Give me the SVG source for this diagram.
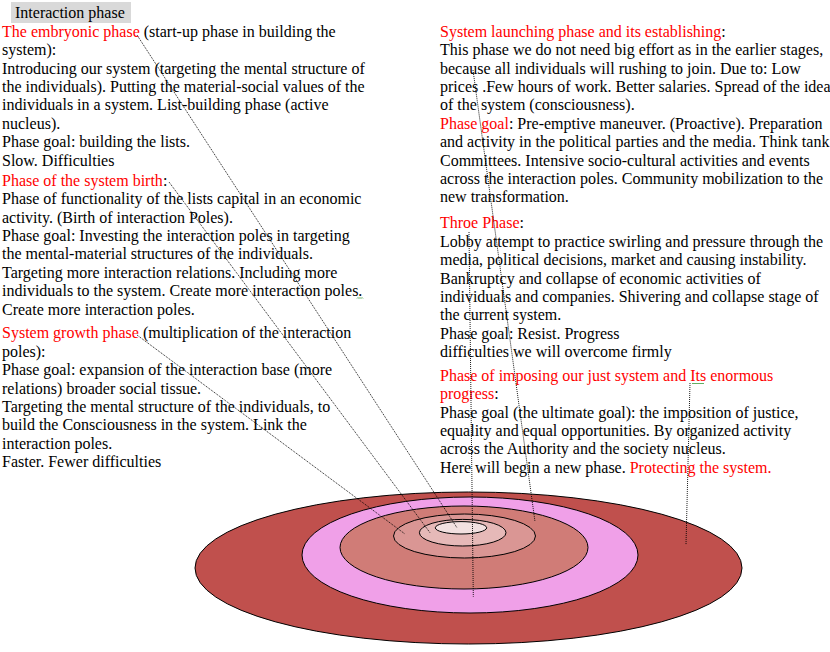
<svg xmlns="http://www.w3.org/2000/svg" width="830" height="652" viewBox="0 0 830 652">
<style>
text{font-family:"Liberation Serif","Times New Roman",serif;font-size:16px;fill:#000}
.r{fill:#FF0000}
.ring{stroke:#000;stroke-width:1}
.lead{fill:none;stroke:#000;stroke-width:0.9;stroke-dasharray:1 1}
.sq{fill:none;stroke:#3C9A3C;stroke-width:0.8}
</style>
<rect width="830" height="652" fill="#fff"/>
<g id="title">
<rect x="11" y="2" width="120" height="21" fill="#D9D9D9"/>
<text x="15" y="18.3">Interaction phase</text>
</g>
<g id="rings">
<ellipse id="ring-outer" class="ring" cx="468.5" cy="568" rx="273.5" ry="76" fill="#C0504D"/>
<ellipse id="ring-pink" class="ring" cx="470" cy="555" rx="168" ry="58" fill="#F0A0E8"/>
<ellipse id="ring-mid" class="ring" cx="464" cy="547.5" rx="124" ry="41.5" fill="#D07C77"/>
<ellipse id="ring-4" class="ring" cx="464.5" cy="536" rx="71" ry="22" fill="#DA9694"/>
<ellipse id="ring-5" class="ring" cx="462.7" cy="532.7" rx="43.3" ry="13.3" fill="#E6B9B8"/>
<ellipse id="ring-inner" class="ring" cx="461" cy="527.8" rx="25.7" ry="6.2" fill="#F2E0E0"/>
</g>
<g id="embryonic">
<text x="2" y="36.7"><tspan class="r">The embryonic phase</tspan> (start-up phase in building the</text>
<text x="2" y="55.1">system):</text>
<text x="2" y="73.5">Introducing our system (targeting the mental structure of</text>
<text x="2" y="91.9">the individuals). Putting the material-social  values of the</text>
<text x="2" y="110.3">individuals in a system. List-building phase (active</text>
<text x="2" y="128.7">nucleus).</text>
<text x="2" y="147.1">Phase goal: building the lists.</text>
<text x="2" y="165.5">Slow. Difficulties</text>
</g>
<g id="birth">
<text x="2" y="185.7"><tspan class="r">Phase of the system birth</tspan>:</text>
<text x="2" y="204.1">Phase of functionality of the lists capital in an economic</text>
<text x="2" y="222.5">activity. (Birth of interaction Poles).</text>
<text x="2" y="240.9">Phase goal: Investing the interaction poles in targeting</text>
<text x="2" y="259.3">the mental-material  structures of the individuals.</text>
<text x="2" y="277.7">Targeting more interaction relations. Including more</text>
<text x="2" y="296.1">individuals to the system. Create more interaction poles.</text>
<text x="2" y="314.5">Create more interaction poles.</text>
<path class="sq" d="M357 298.5 l1 -1 l1 1 l1 -1 l1 1 l1 -1 l1 1"/>
</g>
<g id="growth">
<text x="2" y="338.3"><tspan class="r">System growth phase</tspan> (multiplication  of the interaction</text>
<text x="2" y="356.7">poles):</text>
<text x="2" y="375.1">Phase goal: expansion of the interaction base (more</text>
<text x="2" y="393.5">relations) broader social tissue.</text>
<text x="2" y="411.9">Targeting the mental structure of the individuals, to</text>
<text x="2" y="430.3">build the Consciousness in the system. Link the</text>
<text x="2" y="448.7">interaction poles.</text>
<text x="2" y="467.1">Faster. Fewer difficulties</text>
</g>
<g id="launching">
<text x="440" y="36.7"><tspan class="r">System launching phase and its establishing</tspan>:</text>
<text x="440" y="55.1">This phase we do not need big effort as in the earlier stages,</text>
<text x="440" y="73.5">because all individuals will rushing to join. Due to: Low</text>
<text x="440" y="91.9">prices .Few hours of work. Better salaries.  Spread of the idea</text>
<text x="440" y="110.3">of the system (consciousness).</text>
<text x="440" y="128.7"><tspan class="r">Phase goal</tspan>: Pre-emptive maneuver. (Proactive). Preparation</text>
<text x="440" y="147.1">and activity in the political parties and the media. Think tank</text>
<text x="440" y="165.5">Committees. Intensive socio-cultural  activities and events</text>
<text x="440" y="183.9">across the interaction poles. Community mobilization  to the</text>
<text x="440" y="202.3">new transformation.</text>
</g>
<g id="throe">
<text x="440" y="228.3"><tspan class="r">Throe Phase</tspan>:</text>
<text x="440" y="246.7">Lobby attempt to practice swirling and pressure through the</text>
<text x="440" y="265.1">media, political  decisions, market and causing instability.</text>
<text x="440" y="283.5">Bankruptcy and collapse of economic activities of</text>
<text x="440" y="301.9">individuals and companies. Shivering and collapse stage of</text>
<text x="440" y="320.3">the current system.</text>
<text x="440" y="338.7">Phase goal: Resist. Progress</text>
<text x="440" y="357.1">difficulties we will overcome  firmly</text>
</g>
<g id="imposing">
<text x="440" y="380.7"><tspan class="r">Phase of imposing our just system and Its enormous</tspan></text>
<text x="440" y="399.1"><tspan class="r">progress</tspan>:</text>
<text x="440" y="417.5">Phase goal (the ultimate goal): the imposition  of justice,</text>
<text x="440" y="435.9">equality and equal opportunities. By organized activity</text>
<text x="440" y="454.3">across the Authority and the society nucleus.</text>
<text x="440" y="472.7">Here will begin a new phase. <tspan class="r">Protecting the system.</tspan></text>
<path class="sq" d="M692 384 l1 -1 l1 1 l1 -1 l1 1 l1 -1 l1 1 l1 -1 l1 1 l1 -1 l1 1 l1 -1 l1 1"/>
</g>
<g id="connectors">
<line class="lead" x1="137" y1="35" x2="456.7" y2="527.3"/>
<line class="lead" x1="169" y1="182" x2="430" y2="532.7"/>
<line class="lead" x1="137" y1="335" x2="405" y2="534"/>
<line class="lead" x1="473" y1="70" x2="535" y2="521.7"/>
<line class="lead" x1="469" y1="232" x2="473.3" y2="596.7"/>
<line class="lead" x1="690" y1="383" x2="686" y2="545"/>
</g>
</svg>
